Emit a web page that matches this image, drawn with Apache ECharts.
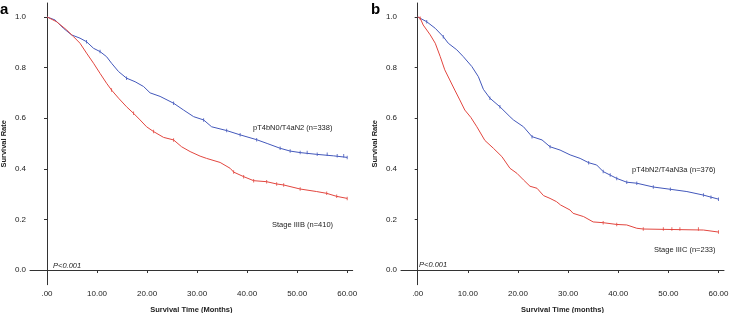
<!DOCTYPE html>
<html><head><meta charset="utf-8">
<script src="https://cdn.jsdelivr.net/npm/echarts@6/dist/echarts.min.js"></script>
<style>html,body{margin:0;padding:0;background:#fff}#c{width:738px;height:313px}</style>
</head><body><div id="c"></div>
<script>
// ---- data ----
const xTicks = [0, 10, 20, 30, 40, 50, 60];
const yTicks = [0, 0.2, 0.4, 0.6, 0.8, 1.0];

// Panel a
const aBlueT = [0,1.6,3.3,4.9,6.6,7.9,9.3,10.6,11.9,12.9,14.3,15.9,17.6,19.3,20.6,22.6,25.3,27.3,29.3,31.3,32.9,35.9,38.6,41.9,44,46.6,48.6,50.6,53.9,57.3,60];
const aBlueS = [1.0,0.988,0.955,0.929,0.916,0.902,0.876,0.863,0.843,0.817,0.784,0.758,0.744,0.725,0.70,0.686,0.659,0.632,0.606,0.593,0.566,0.551,0.534,0.515,0.50,0.481,0.47,0.464,0.457,0.451,0.445];
const aBlueCens = [7.9,10.6,15.9,25.3,31.3,35.9,38.6,41.9,46.6,48.6,50.6,52,54,56,58,59.3,60];

const aRedT = [0,1.9,3.9,5.3,6.6,7.9,9.3,10.6,11.9,12.9,14.3,15.9,17.3,18.6,19.9,21.3,23.3,25.3,26.9,28.6,30.6,31.9,34.6,36.6,37.3,39.3,41.3,43.9,45.9,47.3,50.6,53.9,55.9,57.9,60];
const aRedS = [1.0,0.981,0.949,0.922,0.896,0.857,0.817,0.777,0.738,0.711,0.679,0.645,0.619,0.593,0.566,0.547,0.524,0.514,0.487,0.468,0.45,0.441,0.425,0.402,0.387,0.369,0.353,0.349,0.34,0.336,0.32,0.31,0.303,0.291,0.283];
const aRedCens = [12.9,17.3,21.3,25.3,37.3,39.3,41.3,43.9,45.9,47.3,50.6,55.9,57.9,60];

// Panel b
const bBlueT = [0,1.8,3.5,5.1,6.1,7.8,9.1,10.8,12.1,13.1,14.4,16.4,18.4,19.1,21.1,22.8,24.8,26.4,28.4,30.4,32.4,34.1,35.7,37,38.4,39.7,41.7,43.7,47,50.4,53.7,57,58.5,60];
const bBlueS = [1.0,0.981,0.955,0.922,0.896,0.87,0.843,0.804,0.764,0.714,0.679,0.645,0.606,0.593,0.566,0.527,0.514,0.487,0.474,0.455,0.441,0.424,0.415,0.389,0.375,0.362,0.347,0.343,0.328,0.319,0.31,0.296,0.288,0.28];
const bBlueCens = [1.8,5.1,14.4,16.4,22.8,26.4,34.1,37,38.4,39.7,41.7,43.7,47,50.4,57,58.5,60];

const bRedT = [0,0.5,1.1,2.5,3.5,4.5,5.4,6.4,7.4,8.4,9.4,10.6,11.8,13.4,15.1,16.8,18.4,19.8,21.1,22.4,23.8,25.1,26.4,27.7,28.5,30.4,31,33.1,35,37,39.7,41.7,43.7,45,57,60];
const bRedS = [1.0,0.995,0.968,0.929,0.896,0.843,0.791,0.751,0.711,0.672,0.632,0.603,0.566,0.512,0.481,0.448,0.402,0.382,0.356,0.331,0.323,0.294,0.283,0.27,0.257,0.237,0.224,0.211,0.19,0.187,0.18,0.178,0.165,0.162,0.158,0.15];
const bRedCens = [0.5,37,39.7,45,49,50.7,52.3,56,60];

const labels = {
  aBlue: 'pT4bN0/T4aN2 (n=338)', aRed: 'Stage IIIB (n=410)',
  bBlue: 'pT4bN2/T4aN3a (n=376)', bRed: 'Stage IIIC (n=233)',
  p: 'P<0.001', xA: 'Survival Time (Months)', xB: 'Survival Time (months)', y: 'Survival Rate'
};

// ---- helpers ----
const BLUE = '#4358bb', RED = '#e2463f', AX = '#333';
function pairs(T, S){ return T.map((t,i)=>[t,S[i]]); }
function kmAt(T, S, t){ let v = S[0]; for (let i=0;i<T.length;i++){ if (T[i] <= t) v = S[i]; } return v; }
function cens(T, S, C){ return C.map(t=>[t, kmAt(T,S,t)]); }
const fmtX = v => v === 0 ? '.00' : v.toFixed(2);
const FONT = 'Liberation Sans';

function axes(i, xname){
  const x = {
    type:'value', gridIndex:i, min: i===0?-3.4:-3.33, max:61.1,
    name: xname, nameLocation:'middle', nameGap:21,
    nameTextStyle:{fontFamily:FONT, fontSize:7.5, fontWeight:'bold', color:'#222'},
    axisLine:{lineStyle:{color:AX, width:1}},
    axisTick:{show:true, length:3, customValues:xTicks, lineStyle:{color:AX}},
    axisLabel:{customValues:xTicks, formatter:fmtX, fontFamily:FONT, fontSize:8, color:'#222', margin:5},
    splitLine:{show:false}
  };
  const y = {
    type:'value', gridIndex:i, min:-0.058, max:1.055,
    name: labels.y, nameLocation:'middle', nameGap:22, nameRotate:90,
    nameTextStyle:{fontFamily:FONT, fontSize:7.5, fontWeight:'bold', color:'#222'},
    axisLine:{show:true, lineStyle:{color:AX, width:1}},
    axisTick:{show:true, length:3, customValues:yTicks, lineStyle:{color:AX}},
    axisLabel:{customValues:yTicks, formatter:v=>v.toFixed(1), fontFamily:FONT, fontSize:8, color:'#222', margin:4},
    splitLine:{show:false}
  };
  return [x,y];
}
const [xa, ya] = axes(0, labels.xA);
const [xb, yb] = axes(1, labels.xB);

function curve(i, T, S, color){
  return {type:'line', xAxisIndex:i, yAxisIndex:i, data:pairs(T,S),
    showSymbol:false, lineStyle:{color, width:1}, silent:true, animation:false, z:2};
}
function censor(i, T, S, C, color){
  return {type:'scatter', xAxisIndex:i, yAxisIndex:i, data:cens(T,S,C),
    symbol:'rect', symbolSize:[1,3.5], itemStyle:{color}, silent:true, animation:false, z:3};
}

const txt = (x,y,text,extra) => ({type:'text', x, y, style:Object.assign({text, font:'7.5px "Liberation Sans"', fill:'#222'}, extra||{})});

const chart = echarts.init(document.getElementById('c'), null, {renderer:'canvas'});
chart.setOption({
  animation:false,
  grid:[
    {left:30, top:3, width:322.7, height:281.7, containLabel:false, outerBoundsMode:'none'},
    {left:401, top:3, width:323, height:281.7, containLabel:false, outerBoundsMode:'none'}
  ],
  xAxis:[xa, xb],
  yAxis:[ya, yb],
  series:[
    curve(0, aBlueT, aBlueS, BLUE), curve(0, aRedT, aRedS, RED),
    censor(0, aBlueT, aBlueS, aBlueCens, BLUE), censor(0, aRedT, aRedS, aRedCens, RED),
    curve(1, bBlueT, bBlueS, BLUE), curve(1, bRedT, bRedS, RED),
    censor(1, bBlueT, bBlueS, bBlueCens, BLUE), censor(1, bRedT, bRedS, bRedCens, RED)
  ],
  graphic:[
    txt(0, 2, 'a', {font:'bold 15px "Liberation Sans"', fill:'#000'}),
    txt(371, 2, 'b', {font:'bold 15px "Liberation Sans"', fill:'#000'}),
    txt(253, 124, labels.aBlue),
    txt(272, 221, labels.aRed),
    txt(53, 262, labels.p, {font:'italic 7.5px "Liberation Sans"'}),
    txt(632, 166, labels.bBlue),
    txt(654, 246, labels.bRed),
    txt(419, 261, labels.p, {font:'italic 7.5px "Liberation Sans"'})
  ]
});
</script></body></html>
